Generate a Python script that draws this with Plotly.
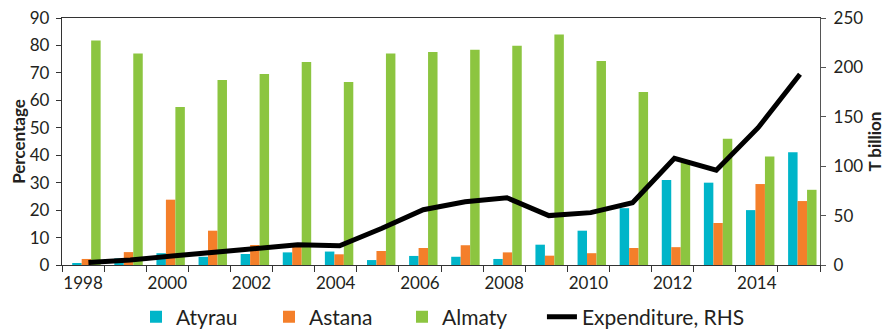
import plotly.graph_objects as go

years = list(range(1998, 2016))
atyrau = [0.7, 2.4, 4.3, 3.0, 4.0, 4.6, 4.9, 1.8, 3.3, 3.0, 2.2, 7.4, 12.5, 20.7, 31.0, 30.0, 20.0, 41.1]
astana = [2.2, 4.7, 23.8, 12.5, 7.3, 7.0, 3.9, 5.1, 6.2, 7.2, 4.6, 3.4, 4.3, 6.2, 6.5, 15.3, 29.5, 23.3]
almaty = [81.8, 77.1, 57.6, 67.4, 69.6, 74.0, 66.7, 77.1, 77.6, 78.4, 79.9, 84.0, 74.3, 63.0, 38.0, 46.0, 39.5, 27.4]
expenditure = [2.5, 5, 9, 13, 17, 20.5, 19.5, 37, 56, 64, 68, 50, 53, 63, 108, 96, 139, 193]
label_years = list(range(1998, 2015, 2))
boundaries = [y - 0.5 for y in range(1998, 2017)]

FONT = "Lato"
TXT = "#231f20"
C_ATY = "#00b5c9"
C_AST = "#f47f2a"
C_ALM = "#8cc540"

BW = 0.225      # single bar width (category units)
SHIFT = 0.08    # group shift to the right

# page body has an 8px default margin: figure is sized/placed to compensate
W, H = 884, 323

fig = go.Figure()
for name, vals, col, k in [("Atyrau", atyrau, C_ATY, 0), ("Astana", astana, C_AST, 1), ("Almaty", almaty, C_ALM, 2)]:
    fig.add_trace(go.Bar(x=years, y=vals, name=name, marker=dict(color=col, line=dict(width=0)),
                         width=BW, offset=-1.5 * BW + k * BW + SHIFT,
                         xaxis="x", yaxis="y", legend="legend"))
fig.add_trace(go.Scatter(x=years, y=expenditure, name="Expenditure, RHS", mode="lines",
                         line=dict(color="black", width=5), xaxis="x2", yaxis="y2", legend="legend2"))

tick_font = dict(size=17, family=FONT, color=TXT)
fig.update_layout(
    width=W, height=H,
    margin=dict(l=54, r=72, t=10, b=66, autoexpand=False),
    paper_bgcolor="white", plot_bgcolor="white",
    font=dict(family=FONT, color=TXT, size=17),
    barmode="overlay",
    showlegend=True,
    legend=dict(orientation="h", xref="container", yref="container",
                x=0.1448, y=0.0433, xanchor="left", yanchor="middle",
                font=dict(size=21, family=FONT, color=TXT),
                entrywidth=88, entrywidthmode="pixels",
                bgcolor="rgba(0,0,0,0)", traceorder="normal"),
    legend2=dict(orientation="h", xref="container", yref="container",
                 x=0.604, y=0.0433, xanchor="left", yanchor="middle",
                 font=dict(size=21, family=FONT, color=TXT),
                 bgcolor="rgba(0,0,0,0)"),
    xaxis=dict(range=[1997.5, 2015.5], automargin=False,
               tickmode="array", tickvals=label_years, ticktext=[str(v) for v in label_years],
               ticks="", showgrid=False, zeroline=False,
               showline=True, linecolor="#333333", linewidth=1.3, mirror=True,
               tickfont=tick_font, ticklabelstandoff=2, ticklabeloverflow="allow",
               minor=dict(tickmode="array", tickvals=boundaries, ticks="outside", ticklen=6,
                          tickcolor="#333333", tickwidth=1.3, showgrid=False)),
    xaxis2=dict(range=[1997.369, 2015.478], overlaying="x", anchor="y2", visible=False,
                automargin=False),
    yaxis=dict(range=[0, 90], dtick=10, tick0=0, showgrid=False, zeroline=False, automargin=False,
               showline=True, linecolor="#333333", linewidth=1.3,
               ticks="outside", ticklen=5, tickcolor="#333333", tickwidth=1.3,
               tickfont=tick_font, ticklabelstandoff=3, ticklabeloverflow="allow",
               title=dict(text="Percentage", font=dict(size=17, family=FONT, color=TXT, weight="bold"),
                          standoff=6)),
    yaxis2=dict(range=[0, 250], dtick=50, tick0=0, overlaying="y", side="right", anchor="x2",
                showgrid=False, zeroline=False, automargin=False,
                showline=True, linecolor="#555555", linewidth=1.3,
                ticks="outside", ticklen=5, tickcolor="#555555", tickwidth=1.3,
                tickfont=tick_font, ticklabelstandoff=4, ticklabeloverflow="allow",
                title=dict(text="T billion", font=dict(size=17, family=FONT, color=TXT, weight="bold"),
                           standoff=6)),
)

fig.write_html("out.html")
